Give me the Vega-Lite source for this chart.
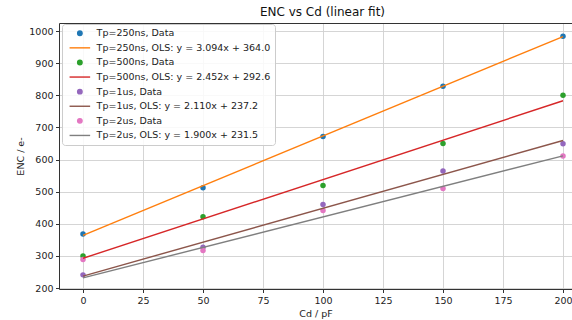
{
  "$schema": "https://vega.github.io/schema/vega-lite/v6.json",
  "autosize": {"type": "none"},
  "width": 513,
  "height": 266,
  "padding": {"left": 59, "top": 23, "right": 0, "bottom": 31},
  "title": {"text": "ENC vs Cd (linear fit)", "fontSize": 12, "fontWeight": "normal", "font": "DejaVu Sans", "color": "#111", "dx": 7, "offset": 4},
  "config": {
    "view": {"stroke": null},
    "font": "DejaVu Sans",
    "axis": {"labelFont": "DejaVu Sans", "titleFont": "DejaVu Sans", "labelFontSize": 9.5, "titleFontSize": 9.5, "titleFontWeight": "normal", "labelColor": "#222", "titleColor": "#222", "domainColor": "#333", "tickColor": "#333", "tickSize": 3.5, "gridColor": "#d0d0d0", "gridWidth": 0.9}
  },
  "data": {"values": [
    {"label": "Tp=250ns, Data", "kind": "Data", "x": 0, "y": 368},
    {"label": "Tp=250ns, Data", "kind": "Data", "x": 50, "y": 512},
    {"label": "Tp=250ns, Data", "kind": "Data", "x": 100, "y": 672},
    {"label": "Tp=250ns, Data", "kind": "Data", "x": 150, "y": 828},
    {"label": "Tp=250ns, Data", "kind": "Data", "x": 200, "y": 984},
    {"label": "Tp=500ns, Data", "kind": "Data", "x": 0, "y": 300},
    {"label": "Tp=500ns, Data", "kind": "Data", "x": 50, "y": 422},
    {"label": "Tp=500ns, Data", "kind": "Data", "x": 100, "y": 519},
    {"label": "Tp=500ns, Data", "kind": "Data", "x": 150, "y": 650},
    {"label": "Tp=500ns, Data", "kind": "Data", "x": 200, "y": 800},
    {"label": "Tp=1us, Data", "kind": "Data", "x": 0, "y": 241},
    {"label": "Tp=1us, Data", "kind": "Data", "x": 50, "y": 327},
    {"label": "Tp=1us, Data", "kind": "Data", "x": 100, "y": 460},
    {"label": "Tp=1us, Data", "kind": "Data", "x": 150, "y": 564},
    {"label": "Tp=1us, Data", "kind": "Data", "x": 200, "y": 649},
    {"label": "Tp=2us, Data", "kind": "Data", "x": 0, "y": 289},
    {"label": "Tp=2us, Data", "kind": "Data", "x": 50, "y": 317},
    {"label": "Tp=2us, Data", "kind": "Data", "x": 100, "y": 441},
    {"label": "Tp=2us, Data", "kind": "Data", "x": 150, "y": 510},
    {"label": "Tp=2us, Data", "kind": "Data", "x": 200, "y": 611},
    {"label": "Tp=250ns, OLS: y = 3.094x + 364.0", "kind": "OLS", "x": 0, "y": 364.0},
    {"label": "Tp=250ns, OLS: y = 3.094x + 364.0", "kind": "OLS", "x": 200, "y": 982.8},
    {"label": "Tp=500ns, OLS: y = 2.452x + 292.6", "kind": "OLS", "x": 0, "y": 292.6},
    {"label": "Tp=500ns, OLS: y = 2.452x + 292.6", "kind": "OLS", "x": 200, "y": 783.0},
    {"label": "Tp=1us, OLS: y = 2.110x + 237.2", "kind": "OLS", "x": 0, "y": 237.2},
    {"label": "Tp=1us, OLS: y = 2.110x + 237.2", "kind": "OLS", "x": 200, "y": 659.2},
    {"label": "Tp=2us, OLS: y = 1.900x + 231.5", "kind": "OLS", "x": 0, "y": 231.5},
    {"label": "Tp=2us, OLS: y = 1.900x + 231.5", "kind": "OLS", "x": 200, "y": 611.5}
  ]},
  "encoding": {
    "y": {"field": "y", "type": "quantitative", "scale": {"domain": [197, 1025], "nice": false, "zero": false},
      "axis": {"title": "ENC / e-", "values": [200, 300, 400, 500, 600, 700, 800, 900, 1000], "format": "d", "labelPadding": 2.5, "titlePadding": 3}}
  },
  "layer": [
    {
      "transform": [{"filter": "datum.kind == 'Data'"}],
      "mark": {"type": "point", "filled": true, "size": 30, "opacity": 1},
      "encoding": {
        "x": {"field": "x", "type": "quantitative", "scale": {"domain": [-10, 203.75], "nice": false, "zero": false},
          "axis": {"title": "Cd / pF", "values": [0, 25, 50, 75, 100, 125, 150, 175, 200], "labelPadding": 3, "titlePadding": 3}},
        "color": {"field": "label", "type": "nominal",
          "scale": {"domain": ["Tp=250ns, Data", "Tp=250ns, OLS: y = 3.094x + 364.0", "Tp=500ns, Data", "Tp=500ns, OLS: y = 2.452x + 292.6", "Tp=1us, Data", "Tp=1us, OLS: y = 2.110x + 237.2", "Tp=2us, Data", "Tp=2us, OLS: y = 1.900x + 231.5"],
            "range": ["#1f77b4", "#ff7f0e", "#2ca02c", "#d62728", "#9467bd", "#8c564b", "#e377c2", "#7f7f7f"]},
          "legend": {"title": null, "orient": "none", "legendX": 3, "legendY": 1, "labelFontSize": 9.5, "labelFont": "DejaVu Sans", "labelColor": "#222", "labelOffset": 12, "labelLimit": 300,
            "padding": 4.5, "rowPadding": 3.6, "fillColor": "rgba(255,255,255,0.85)", "strokeColor": "#cccccc", "cornerRadius": 3, "symbolSize": 20, "symbolOffset": 8.6, "symbolStrokeWidth": 1.4,
            "encode": {"symbols": {"update": {"stroke": {"scale": "color", "field": "value"}}}}}},
        "shape": {"field": "label", "type": "nominal",
          "scale": {"domain": ["Tp=250ns, Data", "Tp=250ns, OLS: y = 3.094x + 364.0", "Tp=500ns, Data", "Tp=500ns, OLS: y = 2.452x + 292.6", "Tp=1us, Data", "Tp=1us, OLS: y = 2.110x + 237.2", "Tp=2us, Data", "Tp=2us, OLS: y = 1.900x + 231.5"],
            "range": ["circle", "M-4.6,0H4.6", "circle", "M-4.6,0H4.6", "circle", "M-4.6,0H4.6", "circle", "M-4.6,0H4.6"]},
          "legend": {"title": null}}
      }
    },
    {
      "transform": [{"filter": "datum.kind == 'OLS'"}],
      "mark": {"type": "line", "strokeWidth": 1.4},
      "encoding": {
        "x": {"field": "x", "type": "quantitative", "scale": {"domain": [-10, 203.75], "nice": false, "zero": false},
          "axis": {"orient": "top", "title": null, "labels": false, "ticks": false, "grid": false, "domain": true}},
        "detail": {"field": "label", "type": "nominal"},
        "stroke": {"field": "label", "type": "nominal",
          "scale": {"domain": ["Tp=250ns, Data", "Tp=250ns, OLS: y = 3.094x + 364.0", "Tp=500ns, Data", "Tp=500ns, OLS: y = 2.452x + 292.6", "Tp=1us, Data", "Tp=1us, OLS: y = 2.110x + 237.2", "Tp=2us, Data", "Tp=2us, OLS: y = 1.900x + 231.5"],
            "range": ["#1f77b4", "#ff7f0e", "#2ca02c", "#d62728", "#9467bd", "#8c564b", "#e377c2", "#7f7f7f"]},
          "legend": null}
      }
    }
  ],
  "resolve": {"axis": {"x": "independent"}}
}
